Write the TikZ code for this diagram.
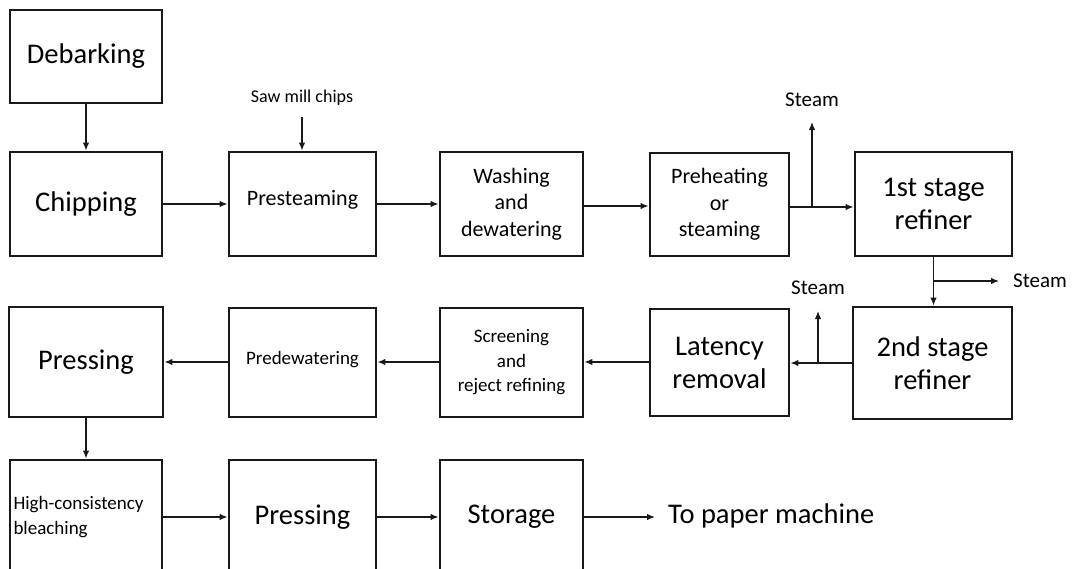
\documentclass[tikz,border=0pt]{standalone}
\usepackage{fontspec}
\setmainfont{Carlito}
\usetikzlibrary{arrows.meta}
\tikzset{
  box/.style={draw=black!90, line width=2.9pt, fill=white, inner sep=3pt, align=center},
  arr/.style={draw=black!90, line width=1.3pt, -{Latex[length=8pt,width=6.5pt]}},
  big/.style={font=\fontsize{28.5}{33}\selectfont},
  mid/.style={font=\fontsize{22}{26.5}\selectfont},
  sml/.style={font=\fontsize{19}{24.5}\selectfont},
  lbl/.style={font=\fontsize{18}{21}\selectfont, inner sep=0pt},
  stm/.style={font=\fontsize{21}{24}\selectfont, inner sep=0pt}
}
\begin{document}
\begin{tikzpicture}[x=1pt,y=-1pt]
\useasboundingbox (0,0) rectangle (1073,568);
\clip (0,0) rectangle (1073,568);
% row 1
\node[box,big,minimum width=152pt,minimum height=93pt] (deb) at (86,56.5) {Debarking};
\node[box,big,minimum width=152pt,minimum height=104pt] (chip) at (86,204) {Chipping};
\node[box,minimum width=147pt,minimum height=104pt] (pres) at (302.5,204) {};
\node[mid] (presT) at (302.5,200) {Presteaming};
\node[box,mid,minimum width=143pt,minimum height=104pt] (wash) at (511.5,204) {Washing\\and\\dewatering};
\node[box,mid,minimum width=139pt,minimum height=103pt] (preh) at (719.5,204.5) {Preheating\\or\\steaming};
\node[box,big,minimum width=157pt,minimum height=104pt] (ref1) at (933.5,204) {1st stage\\refiner};
% row 2
\node[box,big,minimum width=159pt,minimum height=112pt] (ref2) at (932.5,363) {2nd stage\\refiner};
\node[box,big,minimum width=139pt,minimum height=107pt] (lat) at (719.5,362.5) {Latency\\removal};
\node[box,sml,minimum width=143pt,minimum height=109pt] (scr) at (511.5,362.5) {Screening\\and\\reject refining};
\node[box,minimum width=147pt,minimum height=109pt] (pdw) at (302.5,362.5) {};
\node[sml] (pdwT) at (302.5,360) {Predewatering};
\node[box,big,minimum width=154pt,minimum height=110pt] (pr1) at (86,362) {Pressing};
% row 3
\node[box,sml,minimum width=152pt,minimum height=114pt,text width=145pt,align=left] (hc) at (86,517) {High-consistency\\bleaching};
\node[box,big,minimum width=147pt,minimum height=114pt] (pr2) at (302.5,517) {Pressing};
\node[box,big,minimum width=143pt,minimum height=114pt] (sto) at (511.5,517) {Storage};
\node[big,anchor=west,inner sep=0pt] (paper) at (668,516) {To paper machine};
% labels
\node[lbl] (saw) at (302,98) {Saw mill chips};
\coordinate (sawA) at (302,117);
\node[stm] (st1) at (812,100) {Steam};
\coordinate (st1A) at (812,122);
\coordinate (st1B) at (812,207);
\node[stm,anchor=west] (st2) at (1013,281) {Steam};
\coordinate (st2A) at (933.5,281);
\coordinate (st2B) at (999,281);
\node[stm] (st3) at (818,288) {Steam};
\coordinate (st3A) at (818,311);
\coordinate (st3B) at (818,363);
% connectors
\draw[arr] (deb) -- (chip);
\draw[arr] (sawA) -- (sawA |- pres.north);
\draw[arr] (chip.east |- 0,204) -- (pres.west |- 0,204);
\draw[arr] (pres.east |- 0,204) -- (wash.west |- 0,204);
\draw[arr] (wash.east |- 0,206) -- (preh.west |- 0,206);
\draw[arr] (preh.east |- st1B) -- (ref1.west |- st1B);
\draw[arr] (st1B) -- (st1A);
\draw[arr] (ref1.south -| st2A) -- (ref2.north -| st2A);
\draw[arr] (st2A) -- (st2B);
\draw[arr] (ref2.west |- st3B) -- (lat.east |- st3B);
\draw[arr] (st3B) -- (st3A);
\draw[arr] (lat.west |- 0,362) -- (scr.east |- 0,362);
\draw[arr] (scr.west |- 0,362) -- (pdw.east |- 0,362);
\draw[arr] (pdw.west |- 0,362) -- (pr1.east |- 0,362);
\draw[arr] (pr1) -- (hc);
\draw[arr] (hc.east |- 0,517) -- (pr2.west |- 0,517);
\draw[arr] (pr2.east |- 0,517) -- (sto.west |- 0,517);
\draw[arr] (sto.east |- 0,517) -- (655,517);
\end{tikzpicture}
\end{document}
